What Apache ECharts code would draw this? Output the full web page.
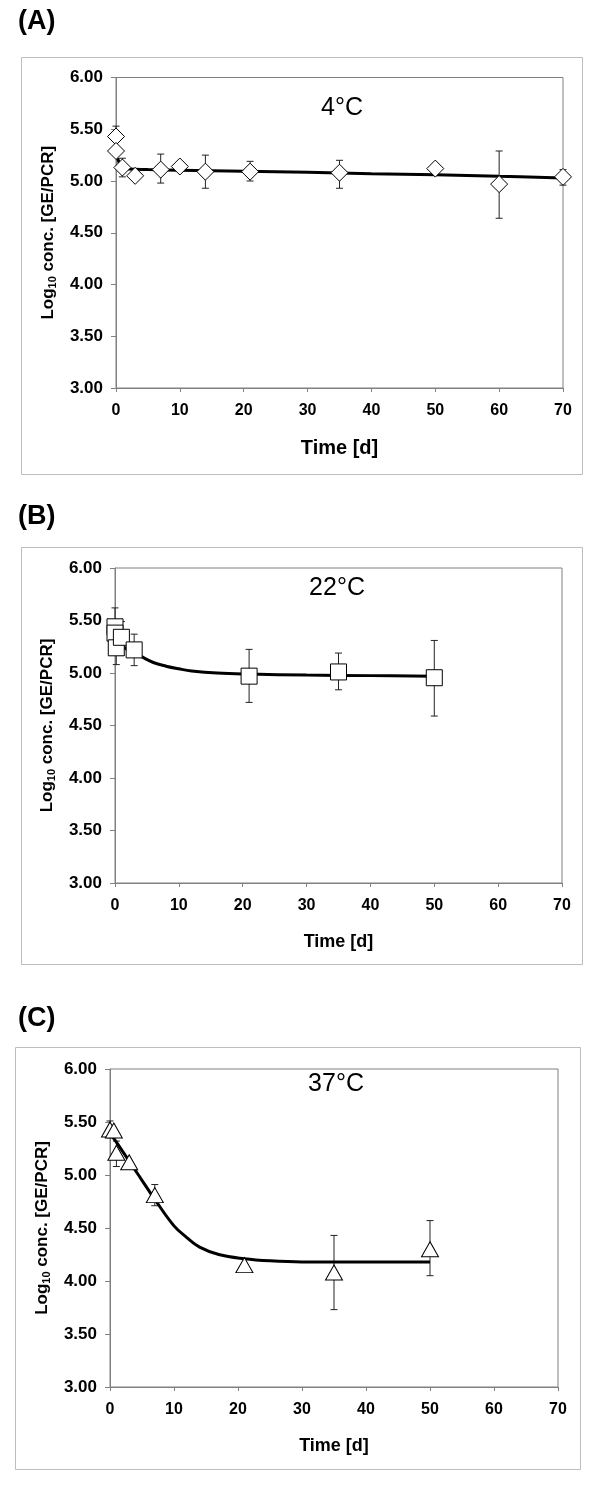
<!DOCTYPE html>
<html><head><meta charset="utf-8">
<script src="https://cdn.jsdelivr.net/npm/echarts@6/dist/echarts.min.js"></script>
<style>html,body{margin:0;padding:0;background:#fff}#c{width:600px;height:1488px}</style>
</head><body><div id="c"></div>
<script>
// ---- Panel A : 4°C (diamonds) ----
const aT   = [0, 0, 1, 3, 7, 10, 14, 21, 35, 50, 60, 70];
const aY   = [5.43, 5.29, 5.13, 5.05, 5.11, 5.14, 5.09, 5.09, 5.08, 5.12, 4.97, 5.04];
const aLo  = [5.33, null, 5.04, null, 4.98, null, 4.93, 5.00, 4.93, null, 4.64, 4.96];
const aHi  = [5.53, null, 5.22, null, 5.26, null, 5.25, 5.19, 5.20, null, 5.29, 5.11];
const aFitT = [0.25, 1, 2, 5, 10, 20, 30, 40, 50, 60, 70];
const aFitY = [5.22, 5.13, 5.115, 5.11, 5.105, 5.095, 5.085, 5.07, 5.06, 5.045, 5.03];

// ---- Panel B : 22°C (squares) ----
const bT   = [0, 0, 0.2, 1, 3, 21, 35, 50];
const bY   = [5.44, 5.38, 5.24, 5.34, 5.22, 4.97, 5.01, 4.955];
const bLo  = [5.25, null, 5.08, 5.17, 5.07, 4.72, 4.84, 4.59];
const bHi  = [5.62, null, 5.36, 5.49, 5.37, 5.225, 5.19, 5.31];
const bFitT = [0, 1, 2, 3, 4, 6, 8, 10, 12, 16, 21, 30, 40, 50];
const bFitY = [5.35, 5.27, 5.22, 5.19, 5.16, 5.10, 5.065, 5.04, 5.02, 5.00, 4.99, 4.98, 4.975, 4.97];

// ---- Panel C : 37°C (triangles) ----
const cT   = [0, 0.6, 1, 3, 7, 21, 35, 50];
const cY   = [5.43, 5.42, 5.21, 5.12, 4.81, 4.15, 4.08, 4.30];
const cLo  = [5.35, null, 5.08, null, 4.71, null, 3.73, 4.05];
const cHi  = [5.51, null, 5.32, null, 4.91, null, 4.43, 4.57];
const cFitT = [0.3, 1, 2, 3, 4, 5, 7, 10, 12, 14, 17, 21, 25, 30, 40, 50];
const cFitY = [5.37, 5.31, 5.22, 5.13, 5.04, 4.95, 4.77, 4.52, 4.41, 4.32, 4.25, 4.21, 4.19, 4.18, 4.18, 4.18];

const yTicks = ['3.00','3.50','4.00','4.50','5.00','5.50','6.00'];
const xTicks = ['0','10','20','30','40','50','60','70'];
const panelLabels = ['(A)', '(B)', '(C)'];
const tempLabels = ['4°C', '22°C', '37°C'];

const FONT = '"Liberation Sans", Arial, sans-serif';
const grids = [
  {left: 116, top: 77.5, width: 447, height: 310.5},
  {left: 115, top: 568, width: 447, height: 315},
  {left: 110, top: 1069, width: 448, height: 318}
];
const boxes = [
  {x: 21, y: 57, w: 561, h: 417},
  {x: 21, y: 547, w: 561, h: 417},
  {x: 15, y: 1047, w: 565, h: 422}
];
const tempPos = [[342, 108], [337, 588], [336, 1084]];
const labelPos = [[18, 8], [18, 503], [18, 1005]];
const nameGaps = [50, 50, 50];

const pts = [[aT, aY, aLo, aHi, aFitT, aFitY, 'diamond', [17, 17]],
             [bT, bY, bLo, bHi, bFitT, bFitY, 'rect', [16, 16]],
             [cT, cY, cLo, cHi, cFitT, cFitY, 'triangle', [17, 15]]];

const xAxis = [], yAxis = [], series = [], graphic = [];
grids.forEach((g, i) => {
  xAxis.push({
    type: 'value', gridIndex: i, min: 0, max: 70, interval: 10,
    axisLine: {show: true, lineStyle: {color: '#808080', width: 1}},
    axisTick: {show: true, inside: false, length: 4, lineStyle: {color: '#808080'}},
    splitLine: {show: false},
    axisLabel: {fontFamily: FONT, fontWeight: 'bold', fontSize: 16, color: '#000', margin: 15,
      formatter: v => xTicks[Math.round(v / 10)]},
    name: 'Time [d]', nameLocation: 'middle', nameGap: nameGaps[i],
    nameTextStyle: {fontFamily: FONT, fontWeight: 'bold', fontSize: i === 0 ? 20 : 18, color: '#000'}
  });
  yAxis.push({
    type: 'value', gridIndex: i, min: 3, max: 6, interval: 0.5,
    axisLine: {show: true, lineStyle: {color: '#808080', width: 1}},
    axisTick: {show: true, inside: false, length: 5, lineStyle: {color: '#808080'}},
    splitLine: {show: false},
    axisLabel: {fontFamily: FONT, fontWeight: 'bold', fontSize: 17, color: '#000', margin: 13,
      formatter: v => yTicks[Math.round((v - 3) / 0.5)]},
    name: '{a|Log}{s|10}{a| conc. [GE/PCR]}', nameLocation: 'middle', nameGap: 58, nameRotate: 90,
    nameTextStyle: {rich: {
      a: {fontFamily: FONT, fontWeight: 'bold', fontSize: 17, color: '#000'},
      s: {fontFamily: FONT, fontWeight: 'bold', fontSize: 11, color: '#000', padding: [8, 0, 0, 0]}
    }}
  });
  const [T, Y, Lo, Hi, FT, FY, sym, ss] = pts[i];
  const errData = [];
  T.forEach((t, k) => { if (Lo[k] != null) errData.push([t, Lo[k], Hi[k]]); });
  series.push({
    type: 'custom', xAxisIndex: i, yAxisIndex: i, z: 2, silent: true,
    data: errData,
    renderItem: (params, api) => {
      const lo = api.coord([api.value(0), api.value(1)]);
      const hi = api.coord([api.value(0), api.value(2)]);
      const c = 3.5;
      const st = {stroke: '#222', lineWidth: 1};
      return {type: 'group', children: [
        {type: 'line', shape: {x1: lo[0], y1: lo[1], x2: hi[0], y2: hi[1]}, style: st},
        {type: 'line', shape: {x1: lo[0] - c, y1: lo[1], x2: lo[0] + c, y2: lo[1]}, style: st},
        {type: 'line', shape: {x1: hi[0] - c, y1: hi[1], x2: hi[0] + c, y2: hi[1]}, style: st}
      ]};
    }
  });
  series.push({
    type: 'line', xAxisIndex: i, yAxisIndex: i, z: 3, silent: true,
    data: FT.map((t, k) => [t, FY[k]]), showSymbol: false, symbol: 'none',
    smooth: 0.4, lineStyle: {color: '#000', width: 3}
  });
  series.push({
    type: 'scatter', xAxisIndex: i, yAxisIndex: i, z: 4, silent: true,
    data: T.map((t, k) => [t, Y[k]]), symbol: sym, symbolSize: ss,
    itemStyle: {color: '#fff', borderColor: '#000', borderWidth: 1, opacity: 1}
  });
  const b = boxes[i];
  graphic.push({type: 'rect', shape: {x: b.x + 0.5, y: b.y + 0.5, width: b.w, height: b.h},
    style: {fill: 'none', stroke: '#bdbdbd', lineWidth: 1}, z: -10, silent: true});
  graphic.push({type: 'text', x: labelPos[i][0], y: labelPos[i][1],
    style: {text: panelLabels[i], font: 'bold 27px ' + FONT, fill: '#000'}, silent: true});
  graphic.push({type: 'text', x: tempPos[i][0], y: tempPos[i][1],
    style: {text: tempLabels[i], font: '25px ' + FONT, fill: '#000', textAlign: 'center', textVerticalAlign: 'middle'}, silent: true});
});

const chart = echarts.init(document.getElementById('c'), null, {renderer: 'canvas'});
chart.setOption({
  animation: false,
  backgroundColor: '#fff',
  grid: grids.map(g => Object.assign({show: true, borderColor: '#808080', borderWidth: 1, backgroundColor: 'transparent'}, g)),
  xAxis, yAxis, series, graphic
});
</script></body></html>
